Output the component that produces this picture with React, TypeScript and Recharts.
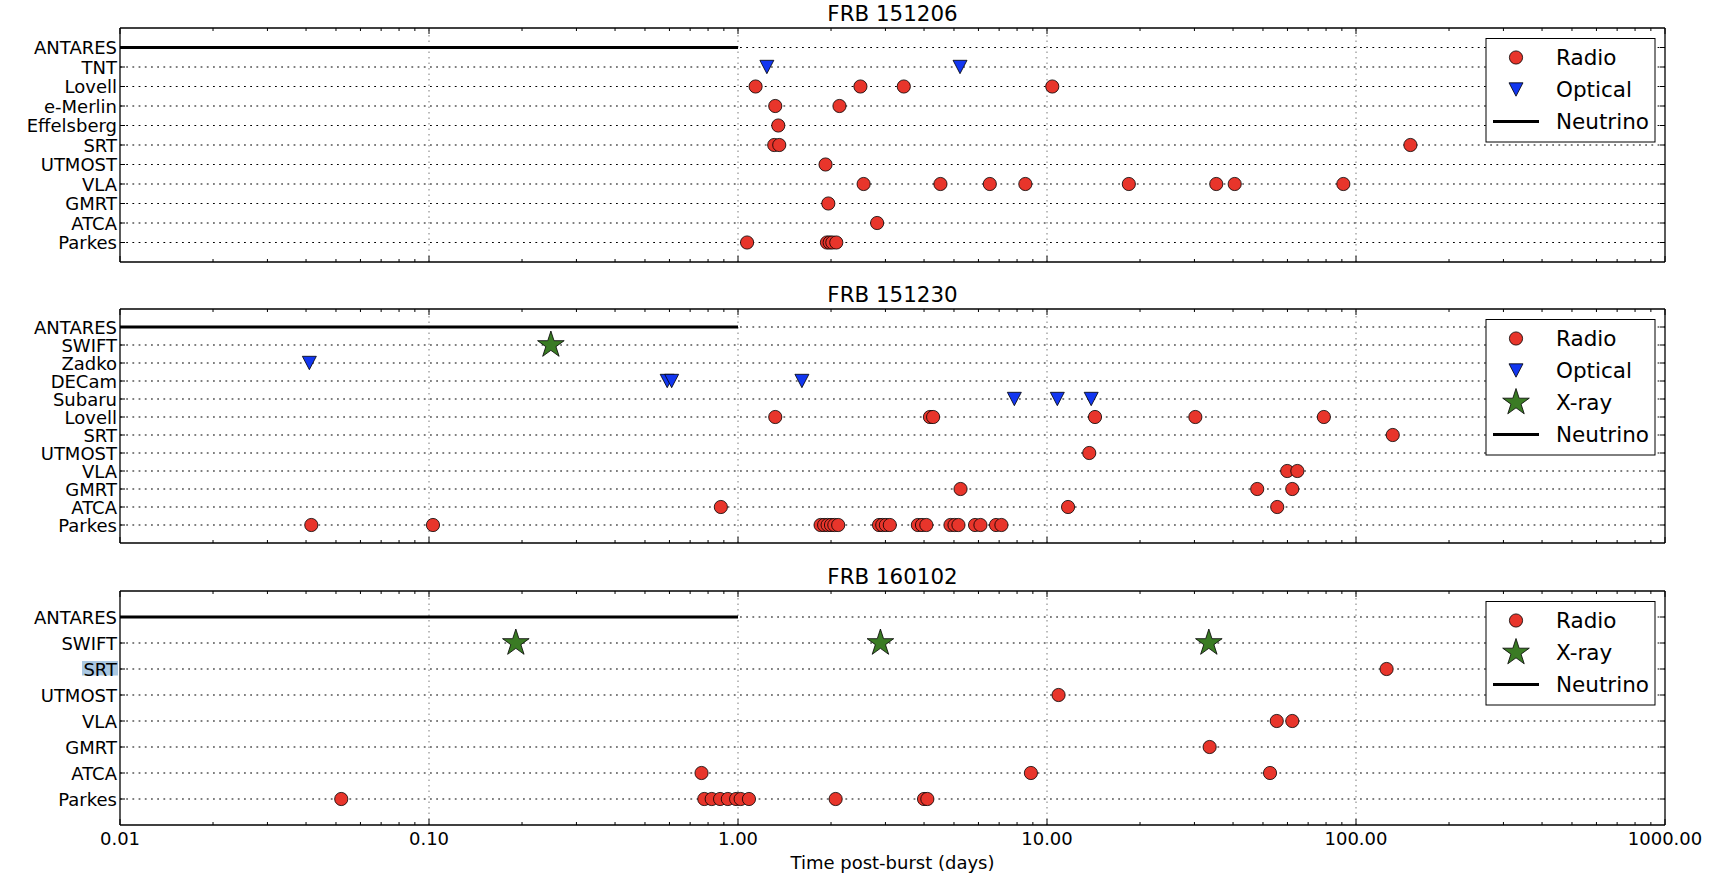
import React from 'react'
import { ScatterChart, Scatter, XAxis, YAxis, ReferenceLine } from 'recharts'

// x axis (days, log)
const xMajorTicks = [0.01, 0.1, 1, 10, 100, 1000]
const xTickLabels = ['0.01', '0.10', '1.00', '10.00', '100.00', '1000.00']
const xMinorSteps = [2, 3, 4, 5, 6, 7, 8, 9]

// FRB 151206
const rows151206 = ['ANTARES', 'TNT', 'Lovell', 'e-Merlin', 'Effelsberg', 'SRT', 'UTMOST', 'VLA', 'GMRT', 'ATCA', 'Parkes']
const radio151206: [string, number][] = [
  ['Lovell', 1.14], ['Lovell', 2.49], ['Lovell', 3.44], ['Lovell', 10.4],
  ['e-Merlin', 1.32], ['e-Merlin', 2.13],
  ['Effelsberg', 1.35],
  ['SRT', 1.31], ['SRT', 1.36], ['SRT', 150],
  ['UTMOST', 1.92],
  ['VLA', 2.55], ['VLA', 4.52], ['VLA', 6.53], ['VLA', 8.51], ['VLA', 18.4], ['VLA', 35.3], ['VLA', 40.5], ['VLA', 91],
  ['GMRT', 1.96],
  ['ATCA', 2.82],
  ['Parkes', 1.07], ['Parkes', 1.94], ['Parkes', 1.98], ['Parkes', 2.02], ['Parkes', 2.08],
]
const optical151206: [string, number][] = [['TNT', 1.24], ['TNT', 5.23]]
const xray151206: [string, number][] = []
const neutrino151206: [string, number, number] = ['ANTARES', 0.01, 1.0]

// FRB 151230
const rows151230 = ['ANTARES', 'SWIFT', 'Zadko', 'DECam', 'Subaru', 'Lovell', 'SRT', 'UTMOST', 'VLA', 'GMRT', 'ATCA', 'Parkes']
const radio151230: [string, number][] = [
  ['Lovell', 1.32], ['Lovell', 4.18], ['Lovell', 4.28], ['Lovell', 14.3], ['Lovell', 30.2], ['Lovell', 78.7],
  ['SRT', 131.5],
  ['UTMOST', 13.7],
  ['VLA', 59.9], ['VLA', 64.6],
  ['GMRT', 5.25], ['GMRT', 47.9], ['GMRT', 62.2],
  ['ATCA', 0.88], ['ATCA', 11.7], ['ATCA', 55.6],
  ['Parkes', 0.0416], ['Parkes', 0.103],
  ['Parkes', 1.85], ['Parkes', 1.9], ['Parkes', 1.95], ['Parkes', 2.0], ['Parkes', 2.05], ['Parkes', 2.11],
  ['Parkes', 2.86], ['Parkes', 2.93], ['Parkes', 3.01], ['Parkes', 3.1],
  ['Parkes', 3.82], ['Parkes', 3.94], ['Parkes', 4.07],
  ['Parkes', 4.87], ['Parkes', 5.02], ['Parkes', 5.17],
  ['Parkes', 5.85], ['Parkes', 6.09],
  ['Parkes', 6.84], ['Parkes', 7.12],
]
const optical151230: [string, number][] = [
  ['Zadko', 0.041],
  ['DECam', 0.59], ['DECam', 0.61], ['DECam', 1.61],
  ['Subaru', 7.84], ['Subaru', 10.8], ['Subaru', 13.9],
]
const xray151230: [string, number][] = [['SWIFT', 0.248]]
const neutrino151230: [string, number, number] = ['ANTARES', 0.01, 1.0]

// FRB 160102
const rows160102 = ['ANTARES', 'SWIFT', 'SRT', 'UTMOST', 'VLA', 'GMRT', 'ATCA', 'Parkes']
const radio160102: [string, number][] = [
  ['SRT', 125.6],
  ['UTMOST', 10.9],
  ['VLA', 55.4], ['VLA', 62.2],
  ['GMRT', 33.6],
  ['ATCA', 0.762], ['ATCA', 8.87], ['ATCA', 52.7],
  ['Parkes', 0.052], ['Parkes', 0.778], ['Parkes', 0.822], ['Parkes', 0.875], ['Parkes', 0.927],
  ['Parkes', 0.986], ['Parkes', 1.02], ['Parkes', 1.085], ['Parkes', 2.07], ['Parkes', 4.0], ['Parkes', 4.1],
]
const optical160102: [string, number][] = []
const xray160102: [string, number][] = [['SWIFT', 0.191], ['SWIFT', 2.89], ['SWIFT', 33.4]]
const neutrino160102: [string, number, number] = ['ANTARES', 0.01, 1.0]

const W = 1730
const LEFT = 120
const RIGHT = 65
const PLOT_TOP = 28
const PLOT_H = 234
const AX = 20 // room given to each axis, taken out of the margins
const FONT = '"DejaVu Sans", sans-serif'
const TICK_FS = 18
const RED = '#e8352b'
const BLUE = '#1236f0'
const GREEN = '#3a7b24'

const allTicks: number[] = []
xMajorTicks.forEach((d, i) => {
  allTicks.push(d)
  if (i < xMajorTicks.length - 1) xMinorSteps.forEach(k => allTicks.push(d * k))
})
const isMajor = (v: number) => Math.abs(Math.log10(v) - Math.round(Math.log10(v))) < 1e-6

const circleMark = (cx: number, cy: number) => (
  <circle cx={cx} cy={cy} r={6.6} fill={RED} stroke="#000" strokeWidth={0.8} />
)
const triMark = (cx: number, cy: number) => (
  <polygon
    points={`${cx - 7},${cy - 6.7} ${cx + 7},${cy - 6.7} ${cx},${cy + 6.7}`}
    fill={BLUE} stroke="#000" strokeWidth={0.8}
  />
)
const starMark = (cx: number, cy: number) => {
  const R = 14
  const r = R * 0.382
  const pts = []
  for (let i = 0; i < 10; i++) {
    const a = (-90 + 36 * i) * Math.PI / 180
    const rad = i % 2 === 0 ? R : r
    pts.push(`${cx + rad * Math.cos(a)},${cy + rad * Math.sin(a)}`)
  }
  return <polygon points={pts.join(' ')} fill={GREEN} stroke="#000" strokeWidth={0.8} />
}

type PanelProps = {
  top: number
  height: number
  title: string
  rows: string[]
  radio: [string, number][]
  optical: [string, number][]
  xray: [string, number][]
  neutrino: [string, number, number]
  showLabels: boolean
  highlight: string[]
}

function Panel({ top, height, rows, radio, optical, xray, neutrino, showLabels, highlight }: PanelProps) {
  const n = rows.length
  const toPts = (arr: [string, number][]) => arr.map(([r, t]) => ({ x: t, y: rows.indexOf(r) }))
  const rowTicks = rows.map((_, i) => i)
  const decades = xMajorTicks.slice(1, -1)

  const bottomTick = (p: any) => {
    const v = p.payload.value
    const major = isMajor(v)
    const li = xMajorTicks.findIndex(m => Math.abs(m - v) / m < 1e-6)
    return (
      <g>
        <line x1={p.x} x2={p.x} y1={p.y} y2={p.y - (major ? 6 : 3)} stroke="#000" strokeWidth={1} />
        {showLabels && major && (
          <text x={p.x} y={p.y + 20} textAnchor="middle" fontSize={TICK_FS} fontFamily={FONT} fill="#000">
            {xTickLabels[li]}
          </text>
        )}
      </g>
    )
  }
  const topTick = (p: any) => {
    const major = isMajor(p.payload.value)
    return <line x1={p.x} x2={p.x} y1={p.y} y2={p.y + (major ? 6 : 3)} stroke="#000" strokeWidth={1} />
  }
  const leftTick = (p: any) => {
    const label = rows[p.payload.value]
    return (
      <g>
        {highlight.includes(label) && (
          <rect x={p.x - 38} y={p.y - 8} width={36} height={14.5} fill="#aac8e2" />
        )}
        <line x1={p.x} x2={p.x + 5} y1={p.y} y2={p.y} stroke="#000" strokeWidth={1} />
        <text x={p.x - 3} y={p.y + 6.5} textAnchor="end" fontSize={TICK_FS} fontFamily={FONT} fill="#000">
          {label}
        </text>
      </g>
    )
  }
  const rightTick = (p: any) => (
    <line x1={p.x} x2={p.x - 5} y1={p.y} y2={p.y} stroke="#000" strokeWidth={1} />
  )

  const axisLine = { stroke: '#000', strokeWidth: 1.3 }

  return (
    <div style={{ position: 'absolute', left: 0, top }}>
      <ScatterChart
        width={W}
        height={height}
        margin={{
          top: PLOT_TOP - AX,
          right: RIGHT - AX,
          bottom: height - PLOT_TOP - PLOT_H - AX,
          left: LEFT - AX,
        }}
      >
        <XAxis
          type="number" dataKey="x" scale="log" domain={[0.01, 1000]} allowDataOverflow
          ticks={allTicks} interval={0} height={AX} tickSize={0} tickMargin={0}
          tickLine={false} axisLine={axisLine} tick={bottomTick}
        />
        <XAxis
          xAxisId="top" orientation="top" type="number" dataKey="x" scale="log" domain={[0.01, 1000]}
          allowDataOverflow ticks={allTicks} interval={0} height={AX} tickSize={0} tickMargin={0}
          tickLine={false} axisLine={axisLine} tick={topTick}
        />
        <YAxis
          type="number" dataKey="y" domain={[-1, n]} reversed allowDataOverflow ticks={rowTicks}
          interval={0} width={AX} tickSize={0} tickMargin={0} tickLine={false} axisLine={axisLine} tick={leftTick}
        />
        <YAxis
          yAxisId="r" orientation="right" type="number" dataKey="y" domain={[-1, n]} reversed allowDataOverflow
          ticks={rowTicks} interval={0} width={AX} tickSize={0} tickMargin={0} tickLine={false}
          axisLine={axisLine} tick={rightTick}
        />
        {decades.map(d => (
          <ReferenceLine key={'v' + d} x={d} stroke="#555" strokeWidth={0.8} strokeDasharray="1.5 4" />
        ))}
        {rowTicks.map(i => (
          <ReferenceLine key={'h' + i} y={i} stroke="#000" strokeWidth={1.1} strokeDasharray="1.8 4.4" />
        ))}
        <ReferenceLine
          segment={[{ x: neutrino[1], y: rows.indexOf(neutrino[0]) }, { x: neutrino[2], y: rows.indexOf(neutrino[0]) }]}
          stroke="#000" strokeWidth={3}
        />
        <Scatter name="Radio" data={toPts(radio)} isAnimationActive={false}
          shape={(p: any) => circleMark(p.cx, p.cy)} />
        {optical.length > 0 && (
          <Scatter name="Optical" data={toPts(optical)} isAnimationActive={false}
            shape={(p: any) => triMark(p.cx, p.cy)} />
        )}
        {xray.length > 0 && (
          <Scatter name="X-ray" data={toPts(xray)} isAnimationActive={false}
            shape={(p: any) => starMark(p.cx, p.cy)} />
        )}
      </ScatterChart>
    </div>
  )
}

function LegendBox({ plotTop, optical, xray }: { plotTop: number; optical: boolean; xray: boolean }) {
  const items: string[] = ['Radio']
  if (optical) items.push('Optical')
  if (xray) items.push('X-ray')
  items.push('Neutrino')
  const top = plotTop + 10.5
  const h = 32 * items.length + 7.5
  return (
    <g>
      <rect x={1486} y={top} width={169} height={h} fill="#fff" stroke="#000" strokeWidth={1} />
      {items.map((name, i) => {
        const cy = top + 19 + 32 * i
        return (
          <g key={name}>
            {name === 'Radio' && circleMark(1516, cy)}
            {name === 'Optical' && triMark(1516, cy)}
            {name === 'X-ray' && starMark(1516, cy)}
            {name === 'Neutrino' && <line x1={1493} x2={1539} y1={cy} y2={cy} stroke="#000" strokeWidth={3} />}
            <text x={1556} y={cy + 7.6} fontSize={21.5} fontFamily={FONT} fill="#000">{name}</text>
          </g>
        )
      })}
    </g>
  )
}

const panels = [
  { top: 0, height: 280, title: 'FRB 151206', rows: rows151206, radio: radio151206, optical: optical151206, xray: xray151206, neutrino: neutrino151206, showLabels: false, highlight: [] as string[] },
  { top: 281, height: 280, title: 'FRB 151230', rows: rows151230, radio: radio151230, optical: optical151230, xray: xray151230, neutrino: neutrino151230, showLabels: false, highlight: [] as string[] },
  { top: 563, height: 329, title: 'FRB 160102', rows: rows160102, radio: radio160102, optical: optical160102, xray: xray160102, neutrino: neutrino160102, showLabels: true, highlight: ['SRT'] },
]

export default function App() {
  const cx = LEFT + (W - LEFT - RIGHT) / 2
  return (
    <div style={{ position: 'absolute', left: 0, top: 0, width: W, height: 892, background: '#fff', fontFamily: FONT, overflow: 'hidden' }}>
      {panels.map(p => <Panel key={p.title} {...p} />)}
      <svg width={W} height={892} style={{ position: 'absolute', left: 0, top: 0, pointerEvents: 'none' }}>
        {panels.map(p => (
          <g key={p.title}>
            <text x={cx} y={p.top + PLOT_TOP - 7} textAnchor="middle" fontSize={21.4} fontFamily={FONT} fill="#000">
              {p.title}
            </text>
            <LegendBox plotTop={p.top + PLOT_TOP} optical={p.optical.length > 0} xray={p.xray.length > 0} />
          </g>
        ))}
        <text x={cx} y={868.5} textAnchor="middle" fontSize={TICK_FS} fontFamily={FONT} fill="#000">
          Time post-burst (days)
        </text>
      </svg>
    </div>
  )
}
